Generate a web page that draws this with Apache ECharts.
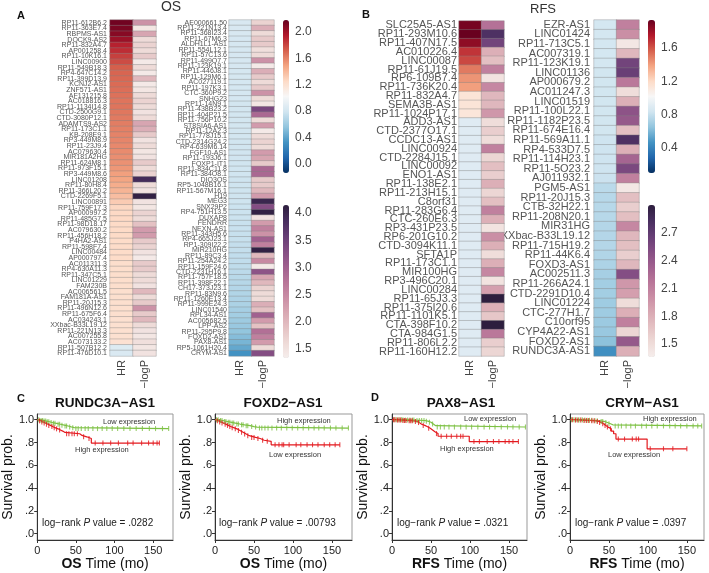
<!DOCTYPE html>
<html><head><meta charset="utf-8">
<script src="https://cdn.jsdelivr.net/npm/echarts@6/dist/echarts.min.js"></script>
<style>html,body{margin:0;padding:0;background:#fff}#c{width:709px;height:573px}</style>
</head><body><div id="c"></div>
<script>
// ---------------- DATA ----------------
const aLeftGenes = ['RP11-612B6.2','RP11-363E7.4','RBPMS-AS1','DOCK9-AS2','RP11-832A4.7','AP001258.4','RP11-10K16.1','LINC00900','RP11-549B18.3','RP4-647C14.2','RP11-399D13.9','KCNJ2-AS1','ZNF571-AS1','AF131215.8','AC018816.3','RP11-1134I14.8','CTD-2500G9.1','CTD-3080P12.1','ADAMTS9-AS2','RP11-173C1.1','KB-208E9.1','RP3-449M8.9','RP11-23J9.4','AC079630.4','MIR181A2HG','RP11-624M8.1','RP11-973F15.1','RP3-449M8.6','LINC01208','RP11-80H8.4','RP11-366L20.2','CTD-2269F5.1','LINC00891','RP11-759F17.3','AP000997.2','RP11-485G7.5','RP11-98D18.17','AC079630.2','RP11-456H18.2','P4HA2-AS1','RP11-598F7.4','LINC00484','AP000797.4','AC011311.3','RP4-630A11.3','RP11-347C5.1','LINC01229','FAM230B','AC006561.5','FAM181A-AS1','RP11-20J15.3','RP11-496N12.6','RP11-675F6.4','AC034243.1','XXbac-B33L19.12','RP11-221N13.3','AC007255.8','AC073133.2','RP11-507B12.2','RP11-476D10.1'];
const aLeftHR = [2.15,2.12,2.08,2.02,1.92,1.88,1.82,1.78,1.72,1.70,1.69,1.68,1.67,1.66,1.65,1.65,1.64,1.63,1.62,1.61,1.60,1.59,1.58,1.57,1.56,1.55,1.53,1.50,1.48,1.45,1.42,1.38,1.32,1.27,1.26,1.26,1.25,1.25,1.25,1.24,1.24,1.24,1.24,1.23,1.23,1.23,1.23,1.23,1.22,1.22,1.22,1.22,1.22,1.21,1.21,1.21,1.21,1.20,0.86,0.84];
const aLeftLogP = [2.4,1.45,2.2,1.6,1.7,1.6,1.8,1.4,1.6,1.4,2.0,1.4,1.45,1.6,1.7,1.6,1.5,1.6,2.2,2.1,1.8,1.5,1.6,1.45,1.5,1.8,1.6,1.7,3.9,1.6,1.5,4.1,1.5,1.45,1.7,1.6,1.9,2.3,2.3,1.8,1.7,1.5,1.4,1.8,1.8,1.6,1.6,1.5,2.0,1.6,1.8,2.4,1.8,2.0,1.6,1.5,1.45,1.55,1.45,1.5];

const aRightGenes = ['AE000661.50','RP11-221N13.4','RP11-368I23.4','RP11-67M6.3','ALDH1L1-AS1','RP11-554L12.1','RP11-57C13.6','RP11-499O7.7','RP11-123K19.1','RP11-446J8.1','RP11-129M6.1','AC027119.1','RP11-197K3.1','CTC-360P9.2','SNHG23','RP11-14N9.1','RP11-438B23.2','RP11-404P21.5','RP11-756P10.2','ST8SIA6-AS1','RP11-12A2.3','RP11-778J15.1','CTD-2314G24.2','RP4-639M6.14','FGF10-AS1','RP11-193J6.1','FOXP1-IT1','RP11-834C11.8','RP11-384O8.1','DIO3OS','RP5-1048B16.1','RP11-567M16.1','H19','MEG3','SNX29P2','RP4-751H13.5','DUXAP8','FENDRR','NEXN-AS1','RP11-343H5.6','RP4-665J23.1','RP1-309I22.2','MIR210HG','RP11-89C3.4','RP11-254A24.2','RP11-159F24.6','CTD-2231H16.1','RP11-757F18.5','RP11-398F22.1','CH17-373J23.1','RP11-83N9.6','RP11-1260E13.4','RP11-999E24.3','LINC01540','RPL34-AS1','AC005682.5','LPP-AS2','RP11-295P9.8','FOXD2-AS1','PAX8-AS1','RP5-1061H20.4','CRYM-AS1'];
const aRightHR = [0.83,0.83,0.83,0.82,0.82,0.82,0.82,0.82,0.82,0.81,0.81,0.81,0.81,0.81,0.81,0.80,0.80,0.80,0.80,0.80,0.80,0.80,0.79,0.79,0.79,0.79,0.79,0.79,0.79,0.78,0.78,0.78,0.78,0.78,0.77,0.77,0.77,0.76,0.76,0.75,0.75,0.74,0.74,0.73,0.73,0.72,0.71,0.70,0.69,0.68,0.67,0.66,0.65,0.63,0.62,0.60,0.58,0.56,0.52,0.48,0.42,0.32];
const aRightLogP = [1.7,2.1,1.6,1.8,1.8,1.55,1.6,2.4,1.4,2.1,1.8,1.6,1.8,2.4,1.6,1.45,3.4,2.9,1.6,2.3,1.4,1.6,1.7,1.6,2.3,2.2,1.8,2.9,2.9,1.8,1.8,2.0,2.3,4.0,3.3,4.1,1.5,2.3,2.6,2.4,3.0,2.6,4.1,2.0,2.5,1.4,3.2,2.2,2.0,1.7,1.6,1.6,2.1,1.9,3.0,2.3,1.9,2.8,2.6,2.3,1.6,3.3];

const bLeftGenes = ['SLC25A5-AS1','RP11-293M10.6','RP11-407N17.5','AC010226.4','LINC00087','RP11-61J19.5','RP6-109B7.4','RP11-736K20.4','RP11-832A4.7','SEMA3B-AS1','RP11-1024P17.1','ADD3-AS1','CTD-2377O17.1','CCDC13-AS1','LINC00924','CTD-2284J15.1','LINC00092','ENO1-AS1','RP11-138E2.1','RP11-213H15.1','C8orf31','RP11-283G6.4','CTC-260E6.3','RP3-431P23.5','RP6-201G10.2','CTD-3094K11.1','SFTA1P','RP11-173C1.1','MIR100HG','RP3-496C20.1','LINC00284','RP11-65J3.3','RP11-375I20.6','RP11-1101K5.1','CTA-398F10.2','CTA-984G1.5','RP11-806L2.2','RP11-160H12.2'];
const bLeftHR = [1.90,1.93,1.84,1.68,1.63,1.50,1.43,1.40,1.14,1.14,1.13,0.90,0.90,0.90,0.90,0.90,0.90,0.90,0.90,0.90,0.90,0.90,0.90,0.90,0.90,0.90,0.90,0.90,0.90,0.90,0.90,0.90,0.90,0.90,0.90,0.90,0.90,0.90];
const bLeftLogP = [2.2,2.8,2.6,1.8,1.7,2.1,1.45,2.05,1.75,1.75,1.95,1.5,1.6,1.5,2.1,1.55,1.7,1.6,1.8,1.55,1.7,2.1,1.8,1.45,2.0,1.8,1.5,1.8,2.05,1.45,1.9,3.0,1.8,1.65,3.0,2.15,1.6,1.55];

const bRightGenes = ['EZR-AS1','LINC01424','RP11-713C5.1','AC007319.1','RP11-123K19.1','LINC01136','AP000679.2','AC011247.3','LINC01519','RP11-100L22.1','RP11-1182P23.5','RP11-674E16.4','RP11-569A11.1','RP4-533D7.5','RP11-114H23.1','RP11-5O23.2','AJ011932.1','PGM5-AS1','RP11-20J15.3','CTB-32H22.1','RP11-208N20.1','MIR31HG','XXbac-B33L19.12','RP11-715H19.2','RP11-44K6.4','FOXD3-AS1','AC002511.3','RP11-266A24.1','CTD-2291D10.4','LINC01224','CTC-277H1.7','C10orf95','CYP4A22-AS1','FOXD2-AS1','RUNDC3A-AS1'];
const bRightHR = [0.85,0.85,0.85,0.85,0.85,0.84,0.84,0.84,0.84,0.84,0.84,0.84,0.83,0.83,0.83,0.83,0.82,0.77,0.76,0.76,0.76,0.75,0.75,0.75,0.74,0.73,0.71,0.70,0.70,0.69,0.69,0.68,0.67,0.64,0.45];
const bRightLogP = [2.1,2.0,1.42,1.75,2.6,2.65,2.15,1.5,1.8,2.45,2.4,1.7,2.8,1.8,2.3,2.55,2.1,1.42,1.7,1.6,1.7,2.05,1.75,1.7,1.6,1.75,2.5,1.95,1.9,1.5,1.8,2.1,1.55,2.4,1.8];

const heatCols = ['HR', '\u2212logP'];
const hrTicksA = [0, 0.4, 0.8, 1.2, 1.6, 2.0];
const logPTicksA = [1.5, 2.0, 2.5, 3.0, 3.5, 4.0];
const hrTicksB = [0.4, 0.8, 1.2, 1.6];
const logPTicksB = [1.5, 1.8, 2.1, 2.4, 2.7];
const survTicks = [0, 0.2, 0.4, 0.6, 0.8, 1.0];
const timeTicks = [0, 50, 100, 150];

// Kaplan-Meier step points [time, survival] and censor times
const rundc3aLow = [[0,1],[4,0.994],[8,0.988],[12,0.982],[16,0.975],[20,0.968],[25,0.96],[30,0.952],[35,0.945],[40,0.937],[44,0.93],[48,0.922],[170,0.922]];
const rundc3aLowCens = [2,5,7,9,11,13,15,18,21,23,27,29,32,36,38,42,46,50,53,57,62,66,72,78,84,90,97,104,112,120,128,136,145,153,162,170];
const rundc3aHigh = [[0,1],[2,0.99],[5,0.98],[8,0.97],[11,0.96],[14,0.95],[17,0.94],[20,0.93],[23,0.92],[27,0.91],[30,0.9],[33,0.888],[36,0.877],[55,0.862],[58,0.85],[64,0.835],[70,0.795],[158,0.795]];
const rundc3aHighCens = [3,6,9,12,15,19,22,25,29,38,41,45,48,52,60,67,75,85,95,105,117,124,135,144,150,155,158];

const foxd2High = [[0,1],[5,0.993],[10,0.985],[15,0.978],[20,0.97],[26,0.962],[32,0.955],[38,0.948],[45,0.94],[50,0.935],[54,0.927],[171,0.927]];
const foxd2HighCens = [2,4,7,9,12,14,17,19,22,24,28,30,34,36,40,42,47,52,57,60,64,68,73,79,85,92,99,106,113,120,127,133,140,148,155,163,171];
const foxd2Low = [[0,1],[2,0.99],[5,0.98],[8,0.97],[11,0.96],[14,0.95],[17,0.94],[20,0.93],[24,0.92],[28,0.905],[32,0.89],[36,0.875],[40,0.86],[44,0.845],[52,0.835],[58,0.82],[63,0.81],[72,0.78],[160,0.78]];
const foxd2LowCens = [3,6,9,13,16,19,22,26,30,34,38,42,47,50,55,61,67,77,82,86,88,95,104,110,118,125,132,140,147,154,160];

const pax8Low = [[0,1],[15,0.997],[30,0.993],[42,0.987],[46,0.978],[50,0.962],[53,0.948],[56,0.936],[171,0.936]];
const pax8LowCens = [3,6,9,12,14,17,20,23,26,28,32,35,38,41,44,48,52,58,62,67,73,80,88,95,102,110,118,125,132,140,148,155,163,171];
const pax8High = [[0,1],[5,0.997],[12,0.993],[20,0.99],[28,0.985],[32,0.975],[35,0.96],[38,0.95],[42,0.94],[45,0.925],[49,0.91],[52,0.895],[55,0.878],[59,0.855],[99,0.808],[162,0.808]];
const pax8HighCens = [2,4,7,9,11,14,16,18,22,24,26,30,34,40,47,57,63,70,76,83,88,91,105,112,122,130,137,145,150,155,162];

const crymHigh = [[0,1],[10,0.998],[20,0.995],[30,0.99],[38,0.985],[44,0.975],[48,0.965],[52,0.955],[55,0.945],[169,0.945]];
const crymHighCens = [2,5,8,11,13,16,19,22,25,28,32,35,40,42,46,50,58,62,66,72,78,84,92,98,105,112,120,128,135,142,150,158,164,169];
const crymLow = [[0,1],[5,0.997],[15,0.993],[25,0.99],[33,0.985],[37,0.975],[40,0.965],[43,0.95],[46,0.935],[49,0.92],[53,0.9],[56,0.877],[59,0.83],[99,0.745],[150,0.745]];
const crymLowCens = [3,7,10,14,18,21,24,28,31,35,38,42,45,48,52,62,70,80,85,88,103,120,132,150];

// ---------------- STYLE ----------------
const FONT = '"Liberation Sans", Arial, Helvetica, sans-serif';
const RdBu_r = ['#053061','#2166ac','#4393c3','#92c5de','#d1e5f0','#f7f7f7','#fddbc7','#f4a582','#d6604d','#b2182b','#67001f'];
const CUBE = ['#f6eeec','#eedad7','#e4c1c3','#d8a7b2','#c98ca4','#b77498','#9f5f8e','#834d83','#653d74','#472e5e','#2d1e3e'];
const GREEN = '#7dc143', RED = '#e3191e';

const chart = echarts.init(document.getElementById('c'));

const grids = [], xAxes = [], yAxes = [], series = [];

function addHeat(genes, hr, lp, box, fontSize, margin) {
  const gi = grids.length;
  grids.push(Object.assign({containLabel:false}, box));
  xAxes.push({type:'category', gridIndex:gi, data:heatCols, position:'bottom',
    axisLine:{show:false}, axisTick:{show:false},
    axisLabel:{rotate:90, fontSize:11, color:'#444', fontFamily:FONT, margin:4, interval:0}});
  yAxes.push({type:'category', gridIndex:gi, data:genes, inverse:true,
    axisLine:{show:false}, axisTick:{show:false}, splitLine:{show:false},
    axisLabel:{fontSize:fontSize, color:'#555', fontFamily:FONT, margin:margin, interval:0, lineHeight:fontSize}});
  const cell = {borderColor:'rgba(130,130,130,0.75)', borderWidth:0.5};
  series.push({type:'heatmap', xAxisIndex:gi, yAxisIndex:gi, data:hr.map((v,i)=>[0,i,v]), itemStyle:cell, emphasis:{disabled:true}, silent:true});
  series.push({type:'heatmap', xAxisIndex:gi, yAxisIndex:gi, data:lp.map((v,i)=>[1,i,v]), itemStyle:cell, emphasis:{disabled:true}, silent:true});
}
addHeat(aLeftGenes, aLeftHR, aLeftLogP, {left:110, top:20, width:46, height:336}, 7, 3);
addHeat(aRightGenes, aRightHR, aRightLogP, {left:229, top:20, width:45, height:336}, 7, 2);
addHeat(bLeftGenes, bLeftHR, bLeftLogP, {left:459, top:21, width:45, height:335}, 11, 2);
addHeat(bRightGenes, bRightHR, bRightLogP, {left:594, top:20, width:45, height:336}, 11, 4);

const cbRanges = [
  {box:{left:283, top:20, width:6, height:153}, min:-0.14, max:2.18, ticks:hrTicksA, colors:RdBu_r, seriesIndex:[0,2]},
  {box:{left:283, top:205, width:6, height:153}, min:1.335, max:4.15, ticks:logPTicksA, colors:CUBE, seriesIndex:[1,3]},
  {box:{left:648, top:20, width:7, height:153}, min:0.10, max:1.936, ticks:hrTicksB, colors:RdBu_r, seriesIndex:[4,6]},
  {box:{left:648, top:205, width:7, height:152}, min:1.36, max:3.0, ticks:logPTicksB, colors:CUBE, seriesIndex:[5,7]}
];
const visualMaps = [];
cbRanges.forEach(cb => {
  const gi = grids.length;
  grids.push(Object.assign({}, cb.box));
  xAxes.push({type:'value', gridIndex:gi, show:false, min:0, max:1});
  yAxes.push({type:'value', gridIndex:gi, min:cb.min, max:cb.max, position:'right',
    axisLine:{show:false}, axisTick:{show:false}, splitLine:{show:false},
    axisLabel:{customValues:cb.ticks, formatter:v=>v.toFixed(1), fontSize:12, color:'#444', fontFamily:FONT, margin:6}});
  visualMaps.push({type:'continuous', seriesIndex:cb.seriesIndex, min:cb.min, max:cb.max,
    calculable:false, hoverLink:false, orient:'vertical', left:cb.box.left, top:cb.box.top,
    itemWidth:cb.box.width, itemHeight:cb.box.height, padding:0, text:null,
    inRange:{color:cb.colors}});
});

function survAt(curve, t) {
  let s = curve[0][1];
  for (const p of curve) { if (p[0] <= t) s = p[1]; }
  return s;
}
function addKM(box, xmax, label, curves) {
  const gi = grids.length;
  grids.push(Object.assign({show:true, borderColor:'#999', borderWidth:1, backgroundColor:'transparent'}, box));
  xAxes.push({type:'value', gridIndex:gi, min:0, max:xmax, interval:50,
    axisLine:{show:true, onZero:false, lineStyle:{color:'#333'}},
    axisTick:{show:true, length:3, lineStyle:{color:'#333'}, customValues:timeTicks},
    axisLabel:{customValues:timeTicks, fontSize:11, color:'#222', fontFamily:FONT, margin:5},
    splitLine:{show:false},
    name:'{b|' + label + '}{n| Time (mo)}', nameLocation:'middle', nameGap:16,
    nameTextStyle:{rich:{b:{fontWeight:'bold', fontSize:14, fontFamily:FONT, color:'#111'}, n:{fontSize:14, fontFamily:FONT, color:'#111'}}}});
  yAxes.push({type:'value', gridIndex:gi, min:-0.055, max:1.05,
    axisLine:{show:true, onZero:false, lineStyle:{color:'#333'}},
    axisTick:{show:true, length:3, lineStyle:{color:'#333'}, customValues:survTicks},
    axisLabel:{customValues:survTicks, formatter:v=> v>=0.999 ? '1.0' : '.' + Math.round(v*10), fontSize:11, color:'#222', fontFamily:FONT, margin:3},
    splitLine:{show:false},
    name:'Survival prob.', nameLocation:'middle', nameRotate:90, nameGap:22,
    nameTextStyle:{fontSize:14, fontFamily:FONT, color:'#111'}});
  curves.forEach(c => {
    series.push({type:'line', xAxisIndex:gi, yAxisIndex:gi, data:c.pts, step:'end', symbol:'none',
      lineStyle:{color:c.color, width:1.2}, silent:true, z:3});
    series.push({type:'scatter', xAxisIndex:gi, yAxisIndex:gi, data:c.cens.map(t=>[t, survAt(c.pts, t)]),
      symbol:'rect', symbolSize:[1.1,5], itemStyle:{color:c.color}, silent:true, z:4});
  });
}
addKM({left:36, top:414, width:137, height:126}, 175.6, 'OS', [
  {pts:rundc3aLow, cens:rundc3aLowCens, color:GREEN}, {pts:rundc3aHigh, cens:rundc3aHighCens, color:RED}]);
addKM({left:215, top:414, width:137, height:126}, 175.6, 'OS', [
  {pts:foxd2High, cens:foxd2HighCens, color:GREEN}, {pts:foxd2Low, cens:foxd2LowCens, color:RED}]);
addKM({left:392, top:414, width:135, height:126}, 173, 'RFS', [
  {pts:pax8Low, cens:pax8LowCens, color:GREEN}, {pts:pax8High, cens:pax8HighCens, color:RED}]);
addKM({left:570, top:414, width:134, height:126}, 172, 'RFS', [
  {pts:crymHigh, cens:crymHighCens, color:GREEN}, {pts:crymLow, cens:crymLowCens, color:RED}]);

function txt(x, y, text, style) {
  return {type:'text', x:x, y:y, silent:true, style:Object.assign({text:text, fontFamily:FONT, fill:'#222', verticalAlign:'middle'}, style)};
}
const small = {fontSize:7.5, fill:'#333'};
const prich = {rich:{i:{fontStyle:'italic', fontSize:10, fontFamily:FONT, fill:'#222'}}, fontSize:10};
const graphics = [
  txt(21, 16, 'A', {fontWeight:'bold', fontSize:11, align:'center', fill:'#111'}),
  txt(171, 7, 'OS', {fontSize:14, align:'center', fill:'#333'}),
  txt(366, 15, 'B', {fontWeight:'bold', fontSize:11, align:'center', fill:'#111'}),
  txt(543, 9, 'RFS', {fontSize:13, align:'center', fill:'#333'}),
  txt(21, 399, 'C', {fontWeight:'bold', fontSize:11, align:'center', fill:'#111'}),
  txt(375, 398, 'D', {fontWeight:'bold', fontSize:11, align:'center', fill:'#111'}),
  txt(105, 403, 'RUNDC3A\u2212AS1', {fontWeight:'bold', fontSize:13.5, align:'center', fill:'#111'}),
  txt(283, 403, 'FOXD2\u2212AS1', {fontWeight:'bold', fontSize:13.5, align:'center', fill:'#111'}),
  txt(461, 403, 'PAX8\u2212AS1', {fontWeight:'bold', fontSize:13.5, align:'center', fill:'#111'}),
  txt(642, 403, 'CRYM\u2212AS1', {fontWeight:'bold', fontSize:13.5, align:'center', fill:'#111'}),
  txt(103, 422, 'Low expression', small),
  txt(75, 450, 'High expression', small),
  txt(277, 421, 'High expression', small),
  txt(269, 455, 'Low expression', small),
  txt(464, 419, 'Low expression', small),
  txt(440, 449, 'High expression', small),
  txt(643, 419, 'High expression', small),
  txt(608, 455, 'Low expression', small),
  txt(42, 523, 'log\u2212rank {i|P} value = .0282', prich),
  txt(219, 523, 'log\u2212rank {i|P} value = .00793', prich),
  txt(397, 523, 'log\u2212rank {i|P} value = .0321', prich),
  txt(575, 523, 'log\u2212rank {i|P} value = .0397', prich)
];

chart.setOption({
  animation:false,
  backgroundColor:'#fff',
  grid:grids, xAxis:xAxes, yAxis:yAxes, series:series,
  visualMap:visualMaps,
  graphic:graphics
});
</script></body></html>
